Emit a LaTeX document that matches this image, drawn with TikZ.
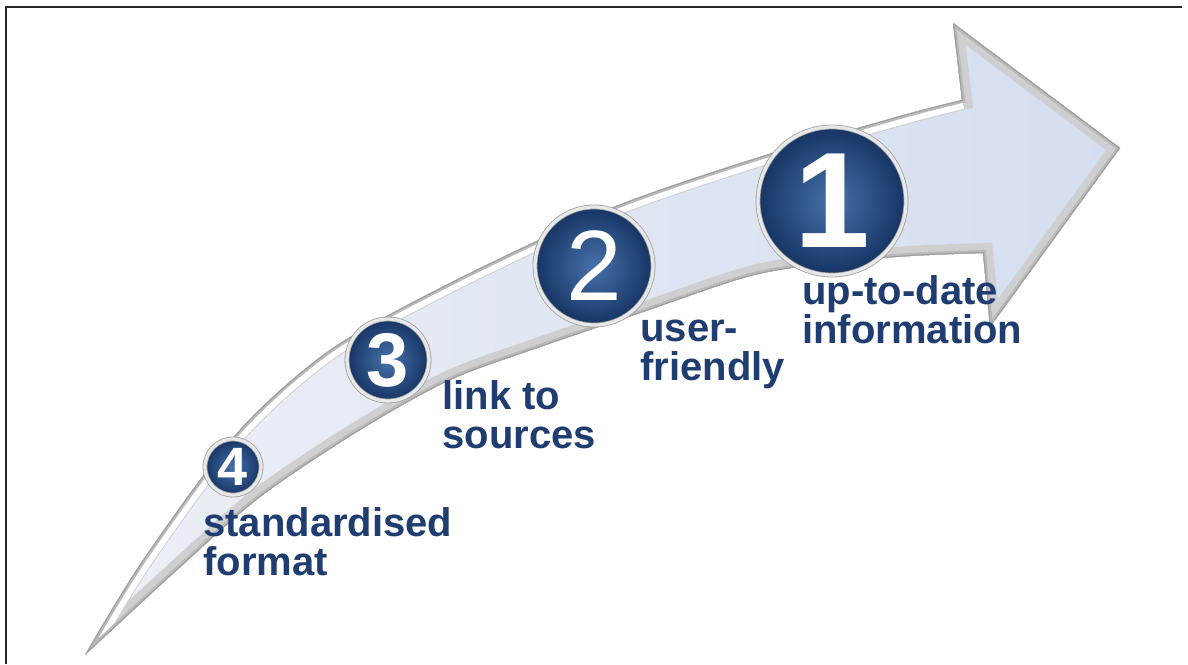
\documentclass[tikz,border=0pt]{standalone}
\usepackage{fontspec}
\setmainfont{Liberation Sans}
\definecolor{labelblue}{RGB}{31,61,112}
\definecolor{navy}{RGB}{22,52,100}
\definecolor{navylight}{RGB}{70,114,170}
\definecolor{arrowblue}{RGB}{212,222,240}
\definecolor{silver}{RGB}{236,239,245}
\begin{document}
\begin{tikzpicture}[x=0.5pt,y=-0.5pt,
  stepcircle/.style={circle,inner sep=0pt,minimum size=#1,text=white,
    inner color=navylight,outer color=navy,
    draw=gray!75,line width=0.4pt,double=white!82!gray,double distance=1.6pt},
  steplabel/.style={anchor=base west,align=left,inner sep=0pt,text=labelblue,
    font=\bfseries\fontsize{20}{19.5}\selectfont}]
\useasboundingbox (0,0) rectangle (1188,664);
\draw[line width=1pt,black!85] (6,664) -- (6,6.5) -- (1182,6.5);
% curved arrow
\def\upperedge{plot[smooth] coordinates {(85,655) (143,560) (237,433) (330,350) (450,283) (606,210) (750,160) (900,116) (962,100)}}
\def\arrowpath{\upperedge -- (953,23) -- (1120,148) -- (990,327) -- (983,253)
  -- plot[smooth] coordinates {(983,253) (910,256) (830,263) (750,276) (640,313) (540,347) (450,380) (360,430) (260,497) (177,570) (85,655)} -- cycle}
\fill[left color=silver,right color=arrowblue] \arrowpath;
\begin{scope}
\clip \arrowpath;
\draw[gray!38,line width=10pt] \arrowpath;
\draw[white,line width=9pt] \upperedge;
\draw[gray!55,line width=3pt] \arrowpath;
\draw[gray!75,line width=1pt] \arrowpath;
\end{scope}
% numbered steps
\node[stepcircle=74pt,font=\bfseries\fontsize{68}{68}\selectfont] (c1) at (832,201) {1};
\node[stepcircle=59pt,font=\fontsize{50}{50}\selectfont] (c2) at (594,266) {2};
\node[stepcircle=41pt,font=\bfseries\fontsize{38}{38}\selectfont] (c3) at (388,360) {3};
\node[stepcircle=28pt,font=\bfseries\fontsize{27}{27}\selectfont] (c4) at (233,467) {4};
\node[steplabel] (l1) at (802,343) {up-to-date\\information};
\node[steplabel] (l2) at (640,380) {user-\\friendly};
\node[steplabel] (l3) at (442,448) {link to\\sources};
\node[steplabel] (l4) at (203,575) {standardised\\format};
\end{tikzpicture}
\end{document}
